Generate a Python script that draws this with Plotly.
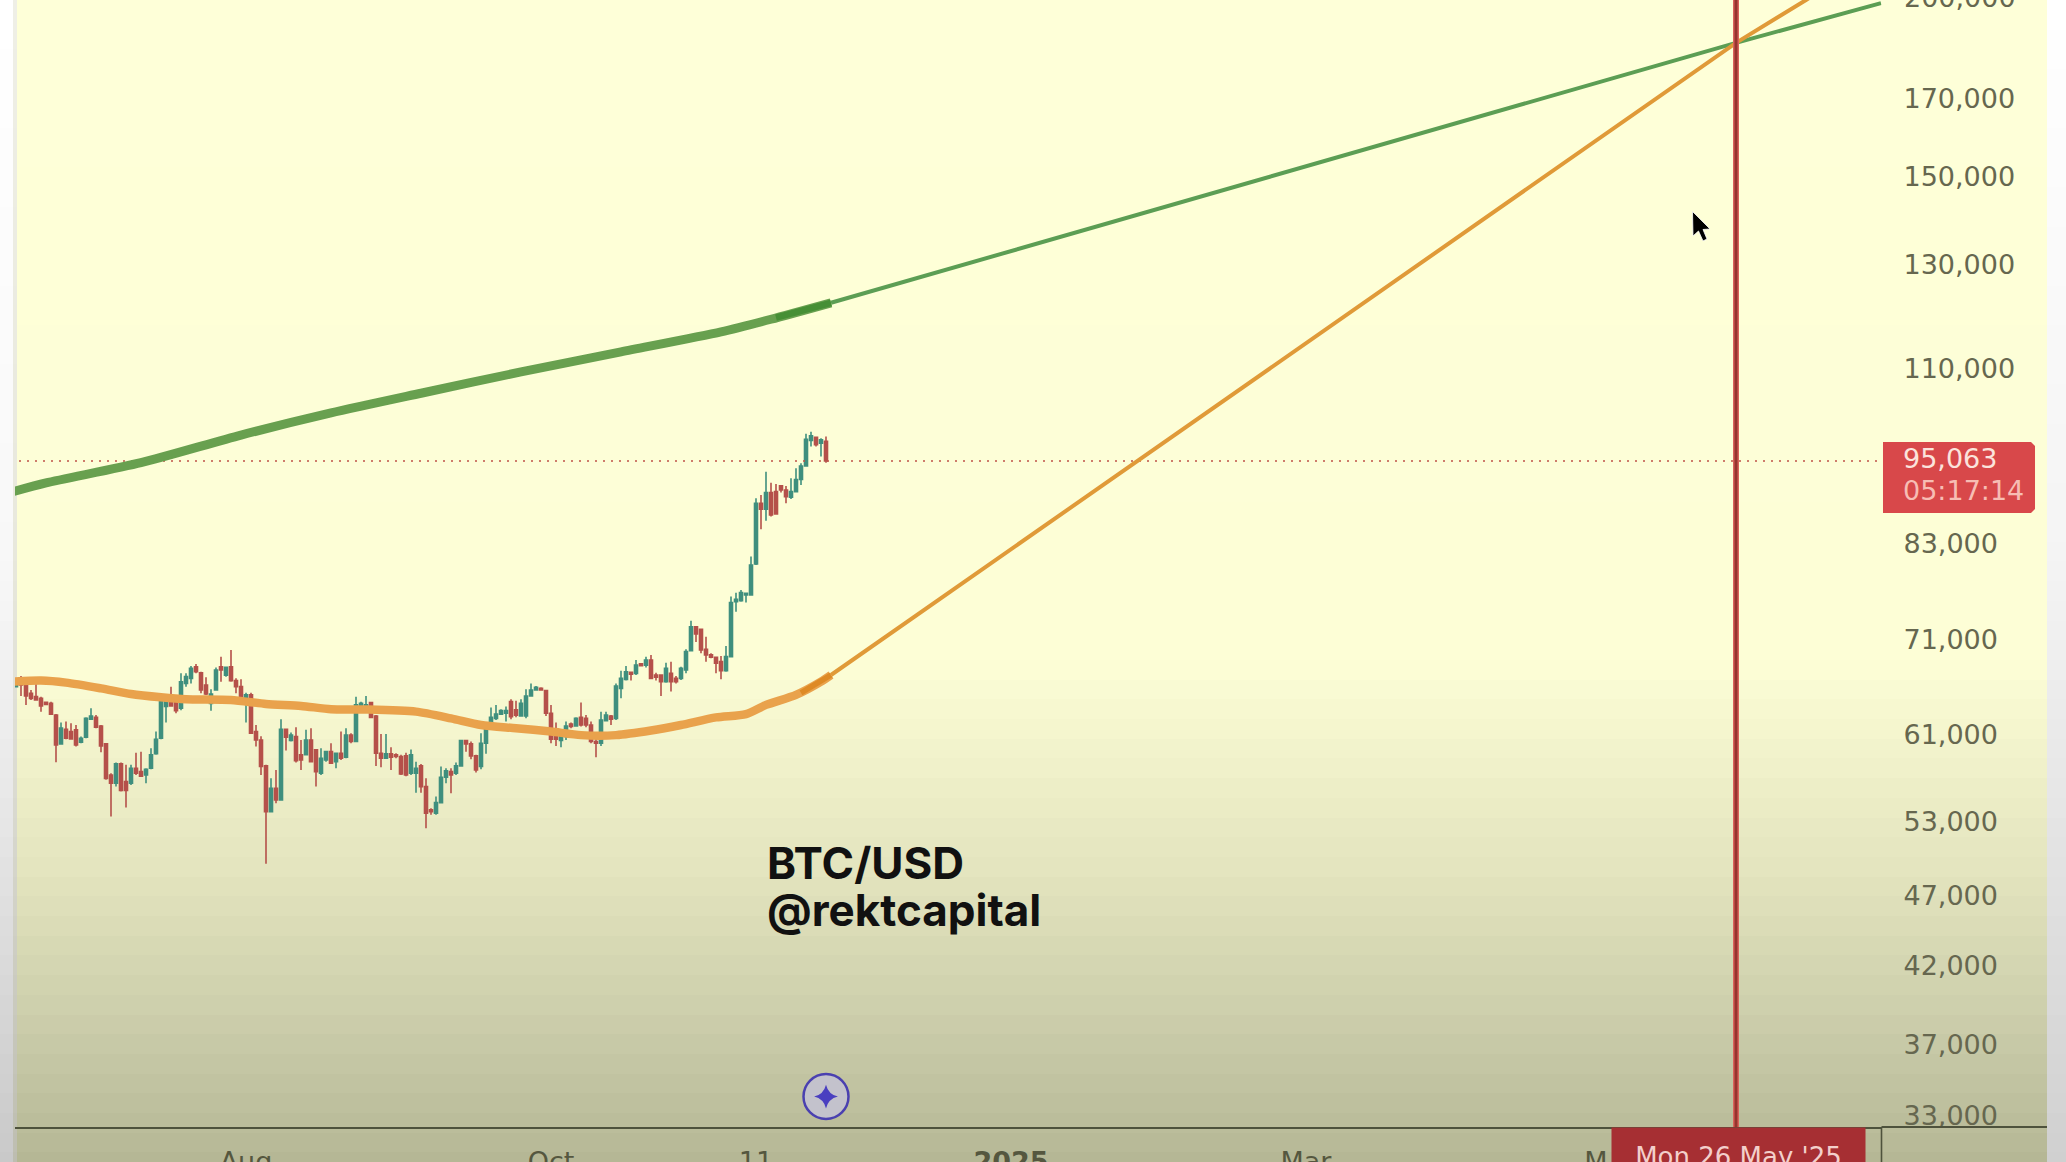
import numpy as np
import pandas as pd
import plotly.graph_objects as go

W, H = 2066, 1162

# ---------- data (thousand USD) ----------
first_candle = "2024-06-16"
opens = [65.85,66.74,66.28,65.15,64.8,64.62,64.2,64.1,62.9,60.05,
61.48,61.25,61.42,60.2,60.7,62.48,62.67,61.8,60.05,57.1,
56.35,58.14,56.5,56.35,57.73,57.42,57.1,57.73,59.1,60.6,
63.77,64.87,64.87,63.6,66.2,66.74,68.0,67.35,66.03,64.1,
65.5,68.0,67.07,68.0,66.5,65.85,64.28,64.98,61.25,60.43,
57.95,53.83,55.9,54.86,61.48,60.37,60.76,59.0,59.0,60.43,
59.47,57.27,58.51,59.3,58.35,59.15,58.76,60.9,60.27,63.43,
63.67,64.18,62.8,59.15,58.67,59.1,59.0,58.83,58.9,57.27,
57.27,57.95,56.05,53.98,53.69,54.62,56.9,57.42,57.27,57.95,
60.37,60.05,58.9,57.89,60.1,61.48,62.57,63.0,63.08,64.28,
63.43,62.8,62.8,64.87,65.5,65.67,65.43,63.08,61.0,60.37,
60.76,62.0,61.8,62.67,62.57,61.9,60.27,60.1,62.34,62.8,
62.57,65.67,66.63,67.39,67.28,68.33,68.18,68.74,67.1,67.1,
66.38,67.28,66.74,66.74,67.64,69.79,72.53,72.23,69.94,69.31,
69.05,68.56,67.57,69.12,75.53,75.65,76.35,76.35,80.26,88.52,
87.66,90.05,90.19,91.03,90.43,89.38,90.19,91.98,94.0,97.95,
98.46,97.53,97.8]
highs = [66.74,66.99,66.38,65.5,66.2,64.8,64.28,64.28,63.0,62.15,
62.25,62.08,61.9,60.76,62.67,63.6,62.9,61.9,60.1,57.27,
58.27,58.27,58.05,58.05,59.2,59.3,57.73,59.63,61.25,64.62,
64.8,65.85,64.98,67.28,67.28,68.07,68.3,67.46,66.85,65.57,
67.93,69.11,67.93,69.86,66.74,66.63,65.2,65.2,61.9,60.8,
58.05,56.8,57.58,62.48,61.48,61.15,61.68,60.43,61.42,61.58,
59.55,59.63,59.3,60.1,59.2,61.25,61.58,61.09,64.8,64.28,
64.87,64.28,62.9,61.0,61.0,59.72,59.15,59.0,59.2,59.5,
58.35,58.14,56.8,54.12,55.15,57.89,57.73,57.73,58.27,60.43,
60.43,60.27,59.0,61.09,61.58,63.67,63.94,63.5,63.77,64.52,
64.38,64.52,65.57,66.2,65.92,65.78,65.43,63.94,62.15,61.15,
62.25,62.15,62.67,64.18,62.9,62.25,61.09,63.25,63.25,62.9,
66.2,67.57,68.07,67.46,68.74,68.37,69.11,69.3,67.35,67.1,
68.44,68.55,66.99,68.01,69.94,73.25,72.53,72.34,71.38,69.49,
69.12,69.19,70.32,76.15,76.63,76.96,76.63,81.22,89.24,89.71,
93.14,91.51,91.32,91.17,91.0,92.16,93.65,94.43,99.0,99.34,
98.57,98.3,98.57]
lows = [65.78,64.87,63.94,64.45,64.38,63.25,63.94,62.9,58.3,59.95,
60.5,60.5,59.8,60.1,60.6,62.41,61.58,59.25,56.66,53.4,
56.05,55.6,54.2,56.2,57.1,56.97,56.35,57.64,59.0,60.5,
62.15,63.77,63.08,63.4,65.85,66.2,67.28,65.15,64.98,63.35,
65.5,66.38,66.92,66.38,65.15,64.38,62.15,61.0,59.8,57.1,
49.5,53.83,54.56,54.8,59.4,60.27,58.27,57.58,59.0,58.3,
56.05,57.1,58.35,58.2,57.73,58.5,58.67,60.1,60.27,63.25,
63.6,62.57,57.95,57.83,58.67,57.58,58.67,57.1,57.0,57.1,
55.5,55.5,52.4,53.55,53.55,54.56,56.35,55.45,57.1,57.89,
59.3,58.57,57.33,57.64,59.1,61.42,62.41,62.9,62.25,62.48,
62.67,62.8,62.57,64.8,65.43,65.43,62.8,60.1,59.85,59.72,
60.43,61.58,61.75,61.75,61.68,60.1,58.76,59.85,62.25,61.9,
62.41,64.62,66.5,66.5,67.1,68.07,67.93,66.63,66.5,64.87,
66.28,65.33,66.2,66.56,67.28,69.68,70.78,69.49,68.56,68.93,
67.28,66.63,67.46,69.05,74.32,75.53,75.42,76.35,80.13,84.87,
86.07,86.63,87.0,90.05,88.52,89.14,90.19,91.17,94.0,97.0,
97.0,95.46,94.5]
closes = [66.63,66.03,64.87,64.62,64.45,63.84,64.0,63.0,59.95,61.6,
60.6,60.53,59.95,60.6,62.57,62.8,61.68,59.85,56.8,56.35,
58.14,55.7,55.7,57.73,57.27,57.0,57.64,59.0,60.5,64.45,
64.73,63.84,63.35,66.38,66.92,67.82,67.46,65.5,65.08,65.08,
67.64,67.64,67.93,66.5,65.85,64.45,64.98,61.09,60.43,57.89,
53.83,55.9,54.86,61.48,60.7,60.9,58.45,58.51,60.43,58.35,
57.42,58.67,59.3,58.2,59.15,58.67,60.9,60.27,63.94,64.1,
63.94,62.67,59.15,58.67,59.1,58.76,58.83,57.2,57.1,59.0,
57.73,56.05,53.69,53.83,54.62,56.9,57.5,57.1,57.95,60.37,
60.05,58.9,57.58,60.1,61.48,62.67,63.0,63.35,63.35,62.74,
62.9,64.1,64.87,65.5,65.78,65.5,63.08,60.5,60.5,61.09,
61.8,61.75,62.57,61.9,61.9,60.27,60.1,62.41,62.9,62.48,
65.92,66.74,67.46,67.2,68.18,68.11,68.74,66.74,66.85,66.38,
67.82,66.38,66.38,67.82,69.68,72.53,71.69,69.86,69.31,69.05,
68.38,67.57,69.12,75.42,75.82,76.63,76.55,80.13,88.52,87.66,
90.05,86.87,87.0,90.43,89.47,90.19,91.98,94.0,98.15,98.67,
97.28,98.05,94.76]

green_dates = ["2024-06-15","2024-06-22","2024-07-11","2024-07-31","2024-08-18","2024-09-05",
               "2024-09-25","2024-10-15","2024-11-04","2024-11-14","2024-11-26"]
green_vals = [90.1,91.46,94.5,98.8,102.4,105.7,109.4,113.0,116.7,119.1,122.3]
green_overlap_dates = ["2024-11-15","2024-11-26"]
green_overlap_vals = [119.4,122.3]
green_thin_dates = ["2024-11-26","2025-05-26","2025-06-24"]
green_thin_vals = [122.3,186.0,198.3]

orange_dates = ["2024-06-15","2024-06-21","2024-06-26","2024-07-03","2024-07-09","2024-07-15","2024-07-20",
                "2024-07-29","2024-08-05","2024-08-12","2024-08-18","2024-08-25","2024-09-04","2024-09-11",
                "2024-09-17","2024-09-24","2024-10-01","2024-10-07","2024-10-14","2024-10-21","2024-10-27",
                "2024-11-03","2024-11-09","2024-11-13","2024-11-19","2024-11-24","2024-11-26"]
orange_vals = [66.38,66.5,66.28,65.67,65.08,64.73,64.52,64.45,64.04,63.84,63.5,63.47,63.25,62.57,
               61.9,61.58,61.25,60.9,60.9,61.35,61.9,62.67,63.0,63.94,64.98,66.38,67.1]
orange_overlap_dates = ["2024-11-20","2024-11-24","2024-11-26"]
orange_overlap_vals = [65.2,66.38,67.1]
orange_thin_dates = ["2024-11-26","2025-05-26","2025-06-09","2025-06-24"]
orange_thin_vals = [67.1,186.0,199.3,215.0]

price_ticks = [170000,150000,130000,110000,83000,71000,61000,53000,47000,42000,37000,33000]
time_tickvals = ["2024-08-01","2024-10-01","2024-11-11","2025-01-01","2025-03-01","2025-04-28"]
time_ticktext = ["Aug","Oct","11","<b>2025</b>","Mar","M"]
marked_date = "2025-05-26"
marked_label = "Mon 26 May '25"
price_label = "95,063"
timer_label = "05:17:14"
event_date = "2024-11-25"
event_value = 34.0

# ---------- helpers ----------
def k(vals):
    return [v * 1000 for v in vals]
def px(x):
    return x / W
def py(y):
    return 1 - y / H
def poly(points):
    return "M" + " L".join(f"{px(a):.5f},{py(b):.5f}" for a, b in points) + " Z"

FONT = "DejaVu Sans"
TICK = "#66674F"
dates = pd.date_range(first_candle, periods=len(opens))

fig = go.Figure()

# ---------- background ----------
rows = np.linspace(0, H, 60)
def band(x0, x1, stops):
    w = x1 - x0
    fig.add_trace(go.Heatmap(
        x=[x0 + w / 4, x0 + 3 * w / 4], y=rows, z=[[r, r] for r in rows], zmin=0, zmax=H,
        colorscale=[[s / H, c] for s, c in stops], showscale=False,
        zsmooth=False, hoverinfo="skip", xaxis="x", yaxis="y"))
band(0, 13, [(0, "#FFFFFF"), (560, "#F8F8F8"), (800, "#E8E8E8"), (H, "#C9C9C9")])
band(13, 17, [(0, "#EFEFE6"), (560, "#E8E8DC"), (800, "#DADAD0"), (H, "#BDBDB0")])
band(17, 2047, [(0, "#FEFFD8"), (660, "#FDFED6"), (880, "#E2E3BD"), (1040, "#C8CAA8"), (H, "#B5B795")])
band(2047, W, [(0, "#FFFFFF"), (560, "#F4F4F4"), (800, "#E6E6E6"), (H, "#D0D0D0")])

# ---------- chart ----------
def line(x, y, color, width, shape="linear"):
    fig.add_trace(go.Scatter(x=x, y=k(y), mode="lines", xaxis="x2", yaxis="y2",
                             line=dict(color=color, width=width, shape=shape, smoothing=0.7),
                             hoverinfo="skip"))

fig.add_trace(go.Scatter(x=[dates[0] - pd.Timedelta(days=1), "2025-06-25"],
                         y=[closes[-1] * 1000] * 2, mode="lines", xaxis="x2", yaxis="y2",
                         line=dict(color="#BF5248", width=1.5, dash="2px,6px"), hoverinfo="skip"))
line(green_thin_dates, green_thin_vals, "#5C9E54", 4)
line(orange_thin_dates, orange_thin_vals, "#E09A38", 4)
line(green_dates, green_vals, "#68A04F", 9, "spline")
line(green_overlap_dates, green_overlap_vals, "#468F35", 6.5)
line(orange_dates, orange_vals, "#E9A24C", 8.5, "spline")
line(orange_overlap_dates, orange_overlap_vals, "#DE8A25", 5.5)

fig.add_trace(go.Candlestick(
    x=dates, open=k(opens), high=k(highs), low=k(lows), close=k(closes),
    xaxis="x2", yaxis="y2",
    increasing=dict(line=dict(color="#3F8F7E", width=1.6), fillcolor="#3F8F7E"),
    decreasing=dict(line=dict(color="#B5504A", width=1.6), fillcolor="#B5504A"),
    hoverinfo="skip"))

fig.add_trace(go.Scatter(x=[event_date], y=[event_value * 1000], mode="markers", xaxis="x2", yaxis="y2",
                         marker=dict(symbol="circle", size=45, color="#C3C2CC",
                                     line=dict(color="#4A40B0", width=2.5)), hoverinfo="skip"))
fig.add_trace(go.Scatter(x=[event_date], y=[event_value * 1000], mode="markers", xaxis="x2", yaxis="y2",
                         marker=dict(symbol="star-diamond", size=17, color="#4A3FC0",
                                     line=dict(width=0)), hoverinfo="skip"))

# ---------- shapes ----------
AXC = "#4E523C"
RED = "#A62F33"
shapes = [
    dict(type="line", xref="paper", yref="paper", x0=px(1881.5), x1=px(1881.5), y0=0, y1=py(1127),
         line=dict(color=AXC, width=1.6)),
    dict(type="line", xref="paper", yref="paper", x0=px(1881.5), x1=px(2047), y0=py(1127), y1=py(1127),
         line=dict(color=AXC, width=2)),
    dict(type="line", xref="x2", yref="paper", x0=marked_date, x1=marked_date, y0=py(1127), y1=1,
         line=dict(color="#D9615A", width=6)),
    dict(type="line", xref="x2", yref="paper", x0=marked_date, x1=marked_date, y0=py(1127), y1=1,
         line=dict(color="#96342E", width=3)),
    dict(type="path", xref="paper", yref="paper", fillcolor="#D8484A", line=dict(width=0),
         path=poly([(1883, 442), (2031, 442), (2035, 446), (2035, 509), (2031, 513), (1883, 513)])),
    dict(type="path", xref="paper", yref="paper", fillcolor="#000000",
         line=dict(color="#FFFFFF", width=0.8),
         path=poly([(1692.5, 211.5), (1693, 236), (1698.5, 231), (1703, 241), (1707, 239),
                    (1703, 229.5), (1710, 229)])),
]

# ---------- annotations ----------
def note(text, x, y, size, color, weight=400, family=FONT):
    return dict(text=text, xref="paper", yref="paper", x=px(x), y=py(y), xanchor="left",
                yanchor="middle", showarrow=False, align="left",
                font=dict(family=family, size=size, color=color, weight=weight))

annotations = [
    note("200,000", 1902, -2, 27, TICK),
    note(price_label, 1901, 458, 27, "#FBE3DC"),
    note(timer_label, 1901, 491, 27, "#F7BDB4"),
    note("BTC/USD", 765, 863, 44, "#111111", 700, "Inter"),
    note("@rektcapital", 765, 910, 44, "#111111", 700, "Inter"),
    dict(text=marked_label, xref="paper", yref="paper", x=px(1611), y=py(1127), xanchor="left",
         yanchor="top", showarrow=False, width=225, height=80, bgcolor=RED, borderpad=14,
         valign="top", align="center", font=dict(family=FONT, size=26, color="#F3CFCB")),
]

fig.update_layout(
    width=W, height=H, margin=dict(l=0, r=0, t=0, b=0, pad=0, autoexpand=False),
    autosize=False, showlegend=False, paper_bgcolor="#FFFFFF", plot_bgcolor="rgba(0,0,0,0)",
    font=dict(family=FONT), boxgap=0.15,
    xaxis=dict(domain=[0, 1], range=[0, W], visible=False, fixedrange=True),
    yaxis=dict(domain=[0, 1], range=[H, 0], visible=False, fixedrange=True),
    xaxis2=dict(domain=[px(15), px(1881.5)], anchor="y2", type="date",
                range=["2024-06-15 19:12", "2025-06-24 02:24"],
                tickmode="array", tickvals=time_tickvals, ticktext=time_ticktext,
                showgrid=False, zeroline=False, rangeslider=dict(visible=False),
                showline=True, linecolor=AXC, linewidth=2, ticks="", automargin=False,
                ticklabelstandoff=10, tickangle=0,
                tickfont=dict(family=FONT, size=27, color="#55573F")),
    yaxis2=dict(domain=[py(1127), 1], anchor="x2", side="right", type="log",
                range=[np.log10(32370), np.log10(199300)],
                tickmode="array", tickvals=price_ticks,
                ticktext=[f"{v:,}" for v in price_ticks], automargin=False,
                showgrid=False, zeroline=False, showline=False, ticks="",
                ticklabelstandoff=21,
                tickfont=dict(family=FONT, size=27, color=TICK)),
    shapes=shapes, annotations=annotations,
)

fig.write_html("out.html", config=dict(displayModeBar=False),
               post_script="document.documentElement.style.overflow='hidden';document.body.style.margin='0';")
